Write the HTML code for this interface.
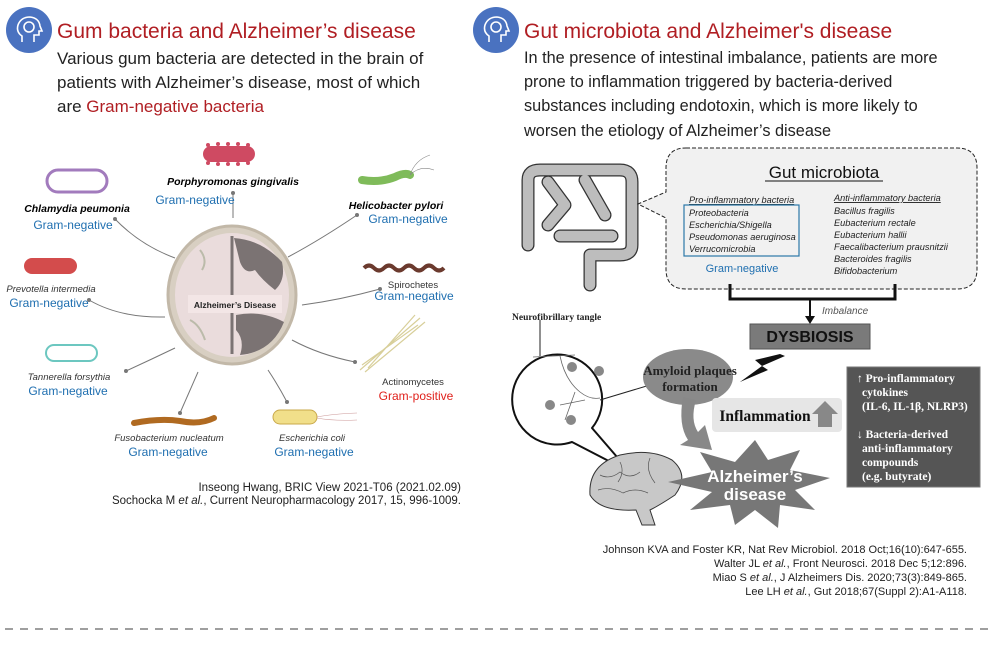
<!DOCTYPE html>
<html><head><meta charset="utf-8"><style>
html,body{margin:0;padding:0;background:#fff;}
svg{display:block;font-family:"Liberation Sans",sans-serif;}
</style></head><body>
<svg width="1000" height="657" viewBox="0 0 1000 657" xmlns="http://www.w3.org/2000/svg">
<g>
<circle cx="29" cy="30" r="23" fill="#4a72c0"/>
<circle cx="496" cy="30" r="23" fill="#4a72c0"/>
<g fill="none" stroke="#fff" stroke-width="1.6">
<path d="M22 42 v-6 q-6-4-4-11 q3-8 12-8 q9 1 10 9 l2 5 h-3 v4 h-5 v7"/>
<circle cx="29" cy="27" r="5"/>
<path d="M489 42 v-6 q-6-4-4-11 q3-8 12-8 q9 1 10 9 l2 5 h-3 v4 h-5 v7"/>
<circle cx="496" cy="27" r="5"/>
</g>
</g>
<text x="57" y="38" font-size="21" fill="#b01e23">Gum bacteria and Alzheimer’s disease</text>
<g font-size="17" fill="#222">
<text x="57" y="64">Various gum bacteria are detected in the brain of</text>
<text x="57" y="88">patients with Alzheimer’s disease, most of which</text>
<text x="57" y="112">are <tspan fill="#b01e23">Gram-negative bacteria</tspan></text>
</g>
<text x="524" y="38" font-size="21" fill="#b01e23">Gut microbiota and Alzheimer's disease</text>
<g font-size="16.3" fill="#222">
<text x="524" y="63">In the presence of intestinal imbalance, patients are more</text>
<text x="524" y="87">prone to inflammation triggered by bacteria-derived</text>
<text x="524" y="111">substances including endotoxin, which is more likely to</text>
<text x="524" y="136">worsen the etiology of Alzheimer’s disease</text>
</g>

<!-- LEFT DIAGRAM -->
<g fill="none" stroke="#777" stroke-width="1">
<path d="M115 219 Q140 245 175 258"/>
<path d="M233 192 V218"/>
<path d="M357 215 Q320 240 288 257"/>
<path d="M89 300 Q120 318 165 317"/>
<path d="M380 289 Q340 300 302 305"/>
<path d="M126 371 Q150 360 175 348"/>
<path d="M355 362 Q320 355 292 340"/>
<path d="M180 413 Q190 390 198 372"/>
<path d="M287 402 Q278 385 268 370"/>
</g>
<g fill="#777">
<circle cx="115" cy="219" r="2"/><circle cx="233" cy="193" r="2"/><circle cx="357" cy="215" r="2"/>
<circle cx="89" cy="300" r="2"/><circle cx="380" cy="289" r="2"/><circle cx="126" cy="371" r="2"/>
<circle cx="355" cy="362" r="2"/><circle cx="180" cy="413" r="2"/><circle cx="287" cy="402" r="2"/>
</g>
<ellipse cx="232" cy="295" rx="64" ry="69" fill="#d8cfc2" stroke="#c2b8a8" stroke-width="3"/>
<ellipse cx="232" cy="295" rx="57" ry="62" fill="#eadcdc"/>
<g fill="#7b7373">
<path d="M234 238 Q262 240 282 262 Q286 280 275 290 Q262 280 255 270 Q245 275 240 262 Z"/>
<path d="M236 315 Q262 310 284 322 Q272 352 240 355 Q245 340 236 330 Z"/>
<path d="M232 236 V354" stroke="#7b7373" stroke-width="3"/>
<path d="M200 250 q8 10 2 20 M190 320 q10 5 15 20" stroke="#bba" stroke-width="2" fill="none"/>
</g>
<rect x="188" y="295" width="94" height="18" fill="#f3e6e6"/>
<text x="235" y="308" font-size="8.5" font-weight="bold" text-anchor="middle" fill="#222">Alzheimer’s Disease</text>
<rect x="203" y="146" width="52" height="16" rx="8" fill="#cf4a62"/>
<g fill="#cf4a62"><circle cx="208" cy="145" r="2"/><circle cx="218" cy="144" r="2"/><circle cx="228" cy="144" r="2"/><circle cx="238" cy="144" r="2"/><circle cx="248" cy="145" r="2"/><circle cx="208" cy="163" r="2"/><circle cx="218" cy="164" r="2"/><circle cx="228" cy="164" r="2"/><circle cx="238" cy="164" r="2"/><circle cx="248" cy="163" r="2"/></g>
<rect x="47" y="170" width="60" height="22" rx="11" fill="#fff" stroke="#a27bbd" stroke-width="3"/>
<rect x="24" y="258" width="53" height="16" rx="8" fill="#d34c4c"/>
<rect x="46" y="345" width="51" height="16" rx="8" fill="#fff" stroke="#6cc7c0" stroke-width="2"/>
<path d="M134 423 Q160 418 180 421 Q200 425 214 418" stroke="#b06a21" stroke-width="6" fill="none" stroke-linecap="round"/>
<rect x="273" y="410" width="44" height="14" rx="7" fill="#f1df8a" stroke="#c9a84a"/>
<path d="M317 417 q15-3 40-4 M317 418 q15 3 40 2" stroke="#c99" fill="none" stroke-width="0.6"/>
<path d="M362 180 Q380 183 395 177 Q405 172 410 175" stroke="#7fbb5a" stroke-width="8" fill="none" stroke-linecap="round"/>
<path d="M410 175 q5-15 20-20 M410 175 q10-10 24-5" stroke="#888" fill="none" stroke-width="0.6"/>
<path d="M364 268 q5-5 10 0 t10 0 t10 0 t10 0 t10 0 t10 0 t10 0 t10 0" stroke="#6b3a2e" stroke-width="4" fill="none"/>
<path d="M360 370 L420 318 M365 372 L425 322 M362 365 L418 325 M368 368 L415 315" stroke="#d8cf9a" stroke-width="1.2"/>
<g font-size="10.5">
<text x="233" y="185" text-anchor="middle" font-weight="bold" font-style="italic">Porphyromonas gingivalis</text>
<text x="77" y="212" text-anchor="middle" font-weight="bold" font-style="italic">Chlamydia peumonia</text>
<text x="396" y="209" text-anchor="middle" font-weight="bold" font-style="italic">Helicobacter pylori</text>
<text x="51" y="292" text-anchor="middle" font-style="italic" font-size="9.5" fill="#333">Prevotella intermedia</text>
<text x="413" y="288" text-anchor="middle" font-size="9.5" fill="#333">Spirochetes</text>
<text x="69" y="380" text-anchor="middle" font-style="italic" font-size="9.5" fill="#333">Tannerella forsythia</text>
<text x="413" y="385" text-anchor="middle" font-size="9.5" fill="#333">Actinomycetes</text>
<text x="169" y="441" text-anchor="middle" font-style="italic" font-size="9.5" fill="#333">Fusobacterium nucleatum</text>
<text x="312" y="441" text-anchor="middle" font-style="italic" font-size="9.5" fill="#333">Escherichia coli</text>
</g>
<g font-size="12" fill="#1f6fb0" text-anchor="middle">
<text x="195" y="204">Gram-negative</text>
<text x="73" y="229">Gram-negative</text>
<text x="408" y="223">Gram-negative</text>
<text x="49" y="307">Gram-negative</text>
<text x="414" y="300">Gram-negative</text>
<text x="68" y="395">Gram-negative</text>
<text x="416" y="400" fill="#e0201b">Gram-positive</text>
<text x="168" y="456">Gram-negative</text>
<text x="314" y="456">Gram-negative</text>
</g>
<g font-size="11.5" fill="#222" text-anchor="end">
<text x="461" y="491">Inseong Hwang, BRIC View 2021-T06 (2021.02.09)</text>
<text x="461" y="504">Sochocka M <tspan font-style="italic">et al.</tspan>, Current Neuropharmacology 2017, 15, 996-1009.</text>
</g>

<!-- RIGHT DIAGRAM -->
<!-- gut -->
<g fill="none" stroke-linejoin="round" stroke-linecap="round">
<g stroke="#333" stroke-width="13">
<path d="M528 245 V180 Q528 170 540 170 H620 Q632 170 632 182 V245 Q632 255 620 255 H590 V285"/>
<path d="M548 182 L565 205 L548 225 M585 180 L605 215 M560 236 H612"/>
</g>
<g stroke="#bdbdbd" stroke-width="10.5">
<path d="M528 245 V180 Q528 170 540 170 H620 Q632 170 632 182 V245 Q632 255 620 255 H590 V285"/>
<path d="M548 182 L565 205 L548 225 M585 180 L605 215 M560 236 H612"/>
</g>
</g>
<path d="M686 148 H957 Q977 148 977 168 V269 Q977 289 957 289 H686 Q666 289 666 269 V218 L638 204 L666 192 V168 Q666 148 686 148 Z" fill="#f1f1f1" stroke="#222" stroke-width="1" stroke-dasharray="4,2"/>
<text x="824" y="178" font-size="17" text-anchor="middle" fill="#111">Gut microbiota</text>
<line x1="765" y1="181" x2="883" y2="181" stroke="#111"/>
<g font-size="9.2" font-style="italic" fill="#222">
<text x="689" y="203" text-decoration="underline">Pro-inflammatory bacteria</text>
<text x="689" y="216">Proteobacteria</text>
<text x="689" y="228">Escherichia/Shigella</text>
<text x="689" y="240">Pseudomonas aeruginosa</text>
<text x="689" y="252">Verrucomicrobia</text>
<text x="834" y="201" text-decoration="underline">Anti-inflammatory bacteria</text>
<text x="834" y="214">Bacillus fragilis</text>
<text x="834" y="226">Eubacterium rectale</text>
<text x="834" y="238">Eubacterium hallii</text>
<text x="834" y="250">Faecalibacterium prausnitzii</text>
<text x="834" y="262">Bacteroides fragilis</text>
<text x="834" y="274">Bifidobacterium</text>
</g>
<rect x="684" y="205" width="115" height="51" fill="none" stroke="#2b78a8" stroke-width="1.2"/>
<text x="742" y="272" font-size="11" text-anchor="middle" fill="#1f6fb0">Gram-negative</text>
<path d="M730 284 V299 H895 V284" fill="none" stroke="#111" stroke-width="3"/>
<path d="M810 299 V318" stroke="#111" stroke-width="2"/>
<path d="M805 316 L810 324 L815 316 Z" fill="#111"/>
<text x="822" y="314" font-size="10" font-style="italic" fill="#555">Imbalance</text>
<rect x="750" y="324" width="120" height="25" fill="#7a7a7a" stroke="#555"/>
<text x="810" y="342" font-size="16" font-weight="bold" text-anchor="middle" fill="#111">DYSBIOSIS</text>
<path d="M780 354 L755 360 L762 366 L740 382 L768 370 L762 366 L785 356 Z" fill="#111"/>
<!-- neuro bubble -->
<text x="512" y="320" font-family="Liberation Serif,serif" font-size="9.5" font-weight="bold" fill="#222">Neurofibrillary tangle</text>
<path d="M592 428 L630 472 L572 442 A45 45 0 1 1 592 428 Z" fill="#fff" stroke="#111" stroke-width="2" stroke-linejoin="round"/>
<path d="M540 320 V356" stroke="#222"/>
<g stroke="#666" fill="none" stroke-width="0.8">
<path d="M533 357 L575 355 M560 356 Q565 380 580 392 Q590 400 600 398 M575 392 L565 420 M585 400 L560 405"/>
</g>
<g fill="#888"><circle cx="572" cy="367" r="5"/><circle cx="599" cy="371" r="5"/><circle cx="550" cy="405" r="5"/><circle cx="571" cy="420" r="5"/></g>
<path d="M600 400 L650 385" stroke="#222"/>
<ellipse cx="688" cy="377" rx="45" ry="28" fill="#8a8a8a"/>
<text x="690" y="375" font-family="Liberation Serif,serif" font-size="13" font-weight="bold" text-anchor="middle" fill="#222">Amyloid plaques</text>
<text x="690" y="391" font-family="Liberation Serif,serif" font-size="13" font-weight="bold" text-anchor="middle" fill="#222">formation</text>
<path d="M683 397 Q678 425 688 440 L680 445 L712 450 L705 425 L698 432 Q690 420 696 400 Z" fill="#888"/>
<rect x="712" y="398" width="130" height="34" rx="4" fill="#e6e6e6"/>
<text x="765" y="421" font-family="Liberation Serif,serif" font-size="15.5" font-weight="bold" text-anchor="middle" fill="#111">Inflammation</text>
<path d="M818 427 V414 H812 L825 401 L838 414 H832 V427 Z" fill="#888"/>
<rect x="847" y="367" width="133" height="120" fill="#555" stroke="#777"/>
<g font-family="Liberation Serif,serif" font-size="11.5" font-weight="bold" fill="#fff">
<text x="857" y="382">↑ Pro-inflammatory</text>
<text x="862" y="396">cytokines</text>
<text x="862" y="410">(IL-6, IL-1β, NLRP3)</text>
<text x="857" y="438">↓ Bacteria-derived</text>
<text x="862" y="452">anti-inflammatory</text>
<text x="862" y="466">compounds</text>
<text x="862" y="480">(e.g. butyrate)</text>
</g>
<path d="M590 495 Q588 465 620 455 Q650 448 672 460 Q690 475 675 495 Q660 505 650 510 L655 525 L642 525 L636 510 Q600 512 590 495 Z" fill="#c8c8c8" stroke="#333"/>
<g stroke="#555" fill="none" stroke-width="0.7"><path d="M600 475 q10 5 20 -3 q10 8 20 0 M598 490 q12 -4 25 3 q12 -6 25 0 M620 462 q5 10 -2 20 M650 458 q-5 12 5 25"/></g>
<path d="M755 440 L768 460 L800 450 L790 470 L830 478 L795 490 L815 510 L780 505 L778 528 L755 510 L735 525 L730 505 L690 510 L712 492 L668 482 L712 472 L700 452 L735 462 Z" fill="#777"/>
<text x="755" y="482" font-size="17" font-weight="bold" text-anchor="middle" fill="#fff">Alzheimer’s</text>
<text x="755" y="500" font-size="17" font-weight="bold" text-anchor="middle" fill="#fff">disease</text>
<g font-size="11" fill="#222" text-anchor="end">
<text x="967" y="553">Johnson KVA and Foster KR, Nat Rev Microbiol. 2018 Oct;16(10):647-655.</text>
<text x="967" y="567">Walter JL <tspan font-style="italic">et al.</tspan>, Front Neurosci. 2018 Dec 5;12:896.</text>
<text x="967" y="581">Miao S <tspan font-style="italic">et al.</tspan>, J Alzheimers Dis. 2020;73(3):849-865.</text>
<text x="967" y="595">Lee LH <tspan font-style="italic">et al.</tspan>, Gut 2018;67(Suppl 2):A1-A118.</text>
</g>
<line x1="5" y1="629" x2="995" y2="629" stroke="#666" stroke-width="1.3" stroke-dasharray="8,7"/>
</svg>
</body></html>
